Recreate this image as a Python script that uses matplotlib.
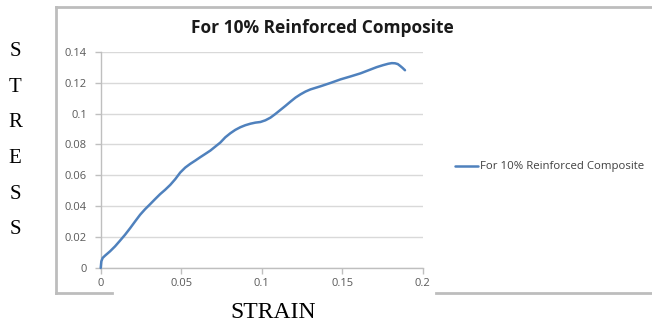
import matplotlib.pyplot as plt
from matplotlib.lines import Line2D

# strain / stress readings for the 10% composite specimen
strain = [0.0, 0.0004, 0.0012, 0.0027, 0.0058, 0.0089, 0.0120, 0.0151, 0.0183,
          0.0214, 0.0245, 0.0276, 0.0307, 0.0338, 0.0369, 0.0400, 0.0432, 0.0463,
          0.0494, 0.0525, 0.0556, 0.0587, 0.0618, 0.0649, 0.0681, 0.0712, 0.0743,
          0.0774, 0.0805, 0.0836, 0.0867, 0.0898, 0.0930, 0.0961, 0.0992, 0.1023,
          0.1054, 0.1085, 0.1116, 0.1147, 0.1179, 0.1210, 0.1241, 0.1272, 0.1303,
          0.1365, 0.1428, 0.1490, 0.1552, 0.1614, 0.1664, 0.1714, 0.1754, 0.1786,
          0.1808, 0.1828, 0.1845, 0.1859, 0.1875, 0.1890]
stress = [0.0, 0.0043, 0.0065, 0.0080, 0.0108, 0.0140, 0.0177, 0.0215, 0.0258,
          0.0302, 0.0345, 0.0381, 0.0413, 0.0446, 0.0478, 0.0506, 0.0538, 0.0575,
          0.0618, 0.0650, 0.0674, 0.0695, 0.0717, 0.0738, 0.0760, 0.0786, 0.0812,
          0.0846, 0.0872, 0.0894, 0.0911, 0.0924, 0.0934, 0.0941, 0.0945, 0.0956,
          0.0973, 0.0997, 0.1023, 0.1049, 0.1077, 0.1103, 0.1124, 0.1142, 0.1156,
          0.1176, 0.1198, 0.1221, 0.1240, 0.1260, 0.1280, 0.1300, 0.1313, 0.1322,
          0.1326, 0.1325, 0.1320, 0.1309, 0.1295, 0.1280]

x_ticks = [0, 0.05, 0.1, 0.15, 0.2]
x_tick_labels = ['0', '0.05', '0.1', '0.15', '0.2']
y_ticks = [0, 0.02, 0.04, 0.06, 0.08, 0.1, 0.12, 0.14]
y_tick_labels = ['0', '0.02', '0.04', '0.06', '0.08', '0.1', '0.12', '0.14']

series_name = 'For 10% Reinforced Composite'

W, H = 652, 324
fig = plt.figure(figsize=(W / 100, H / 100), dpi=100)
fig.patch.set_facecolor('white')

ax = fig.add_axes([100.7 / W, 1 - 268 / H, 322 / W, 216.3 / H])
ax.plot(strain, stress, color='#4f81bd', linewidth=1.8, label=series_name,
        solid_capstyle='round', solid_joinstyle='round', clip_on=False, zorder=3)

ax.set_xlim(0, 0.2)
ax.set_ylim(0, 0.14)
ax.set_xticks(x_ticks)
ax.set_xticklabels(x_tick_labels)
ax.set_yticks(y_ticks)
ax.set_yticklabels(y_tick_labels)
ax.grid(axis='y', color='#d9d9d9', linewidth=1)
ax.set_axisbelow(True)
for side in ['top', 'right']:
    ax.spines[side].set_visible(False)
for side in ['left', 'bottom']:
    ax.spines[side].set_color('#bfbfbf')
    ax.spines[side].set_linewidth(1)
ax.tick_params(axis='both', colors='#bfbfbf', length=4, width=1,
               labelsize=8, labelcolor='#595959')
ax.tick_params(axis='y', pad=6)
ax.tick_params(axis='x', pad=3)
for lbl in ax.get_xticklabels() + ax.get_yticklabels():
    lbl.set_family('Open Sans')

fig.text(322 / W, 1 - 28 / H, series_name, ha='center', va='center',
         fontsize=12.5, fontweight='bold', family='Open Sans', color='#1a1a1a')

# legend to the right of the plot area
leg = fig.legend(loc='center left', bbox_to_anchor=(445 / W, 1 - 167 / H),
                 frameon=False, handlelength=2.0, handletextpad=0.15,
                 prop={'family': 'Open Sans', 'size': 8.2})
for t in leg.get_texts():
    t.set_color('#404040')

# chart frame
frame = '#bdbdbd'
fig.add_artist(Line2D([55.7 / W, 1], [1 - 7.3 / H, 1 - 7.3 / H], color=frame, lw=2))
fig.add_artist(Line2D([55.7 / W, 55.7 / W], [1 - 7.3 / H, 1 - 293.3 / H], color=frame, lw=2))
fig.add_artist(Line2D([55.7 / W, 111.7 / W], [1 - 293.3 / H, 1 - 293.3 / H], color=frame, lw=2))
fig.add_artist(Line2D([436 / W, 1], [1 - 293.3 / H, 1 - 293.3 / H], color=frame, lw=2))

# axis titles
for i, ch in enumerate('STRESS'):
    fig.text(15 / W, 1 - (51.7 + i * 35.6) / H, ch, ha='center', va='center',
             fontsize=15, family='Liberation Serif', color='black')
fig.text(273 / W, 1 - 312 / H, 'STRAIN', ha='center', va='center',
         fontsize=17, family='Liberation Serif', color='black')

fig.savefig('out.png', dpi=100)
